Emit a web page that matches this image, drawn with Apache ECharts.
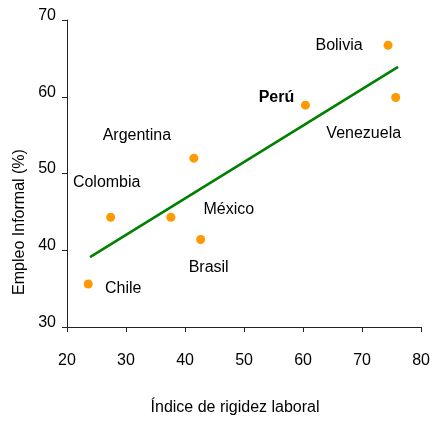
<!DOCTYPE html>
<html>
<head>
<meta charset="utf-8">
<script src="https://cdn.jsdelivr.net/npm/echarts@6/dist/echarts.min.js"></script>
<style>
html,body{margin:0;padding:0;background:#fff;}
#chart{width:433px;height:421px;}
</style>
</head>
<body>
<div id="chart"></div>
<script>
var countries = ['Bolivia', 'Venezuela', 'Perú', 'Argentina', 'Colombia', 'México', 'Brasil', 'Chile'];
var rigidez = [74.4, 75.7, 60.4, 41.5, 27.4, 37.6, 42.65, 23.6];
var empleo = [66.7, 59.9, 58.9, 52.0, 44.3, 44.3, 41.4, 35.6];
var trendX = [23.9, 76.1];
var trendY = [39.1, 63.9];
var xTicks = [20, 30, 40, 50, 60, 70, 80];
var yTicks = [30, 40, 50, 60, 70];

// label placement (style only)
var labelOffsets = {
  'Bolivia': [-49, 0],
  'Venezuela': [-32, 36],
  'Perú': [-29, -8],
  'Argentina': [-57, -23],
  'Colombia': [-4, -35],
  'México': [58, -8],
  'Brasil': [8, 28],
  'Chile': [35, 5]
};

var FONT = "'Liberation Sans', Arial, sans-serif";
var FS = 16;

var points = countries.map(function (c, i) {
  return {
    name: c,
    value: [rigidez[i], empleo[i]],
    label: {
      offset: labelOffsets[c],
      fontWeight: c === 'Perú' ? 'bold' : 'normal'
    }
  };
});
var trend = trendX.map(function (x, i) { return [x, trendY[i]]; });

var chart = echarts.init(document.getElementById('chart'), null, {renderer: 'canvas'});
chart.setOption({
  animation: false,
  backgroundColor: '#fff',
  textStyle: {fontFamily: FONT},
  grid: {left: 67, right: 8, top: 20, bottom: 90, containLabel: false},
  xAxis: {
    type: 'value', min: xTicks[0], max: xTicks[xTicks.length - 1], interval: 10,
    name: 'Índice de rigidez laboral', nameLocation: 'middle', nameGap: 73,
    nameTextStyle: {fontSize: FS, color: '#000', fontFamily: FONT, padding: [0, 18, 0, 0]},
    axisLine: {show: true, lineStyle: {color: '#222', width: 1}},
    axisTick: {show: true, length: 5, lineStyle: {color: '#222'}},
    axisLabel: {fontSize: FS, color: '#000', margin: 26, fontFamily: FONT},
    splitLine: {show: false}
  },
  yAxis: {
    type: 'value', min: yTicks[0], max: yTicks[yTicks.length - 1], interval: 10,
    name: 'Empleo Informal (%)', nameLocation: 'middle', nameGap: 39, nameRotate: 90,
    nameTextStyle: {fontSize: FS, color: '#000', fontFamily: FONT, padding: [0, 97, 0, 0]},
    axisLine: {show: true, lineStyle: {color: '#222', width: 1}},
    axisTick: {show: true, length: 5, lineStyle: {color: '#222'}},
    axisLabel: {fontSize: FS, color: '#000', margin: 11, fontFamily: FONT,
      verticalAlign: 'bottom', lineHeight: 9},
    splitLine: {show: false}
  },
  series: [
    {
      type: 'line',
      data: trend,
      showSymbol: false,
      symbol: 'none',
      lineStyle: {color: '#008000', width: 2.6},
      z: 2
    },
    {
      type: 'scatter',
      data: points,
      symbolSize: 9,
      itemStyle: {color: '#FF9900', opacity: 1},
      label: {
        show: true,
        position: 'inside',
        formatter: '{b}',
        fontSize: FS,
        color: '#000',
        fontFamily: FONT
      },
      z: 3
    }
  ]
});
</script>
</body>
</html>
